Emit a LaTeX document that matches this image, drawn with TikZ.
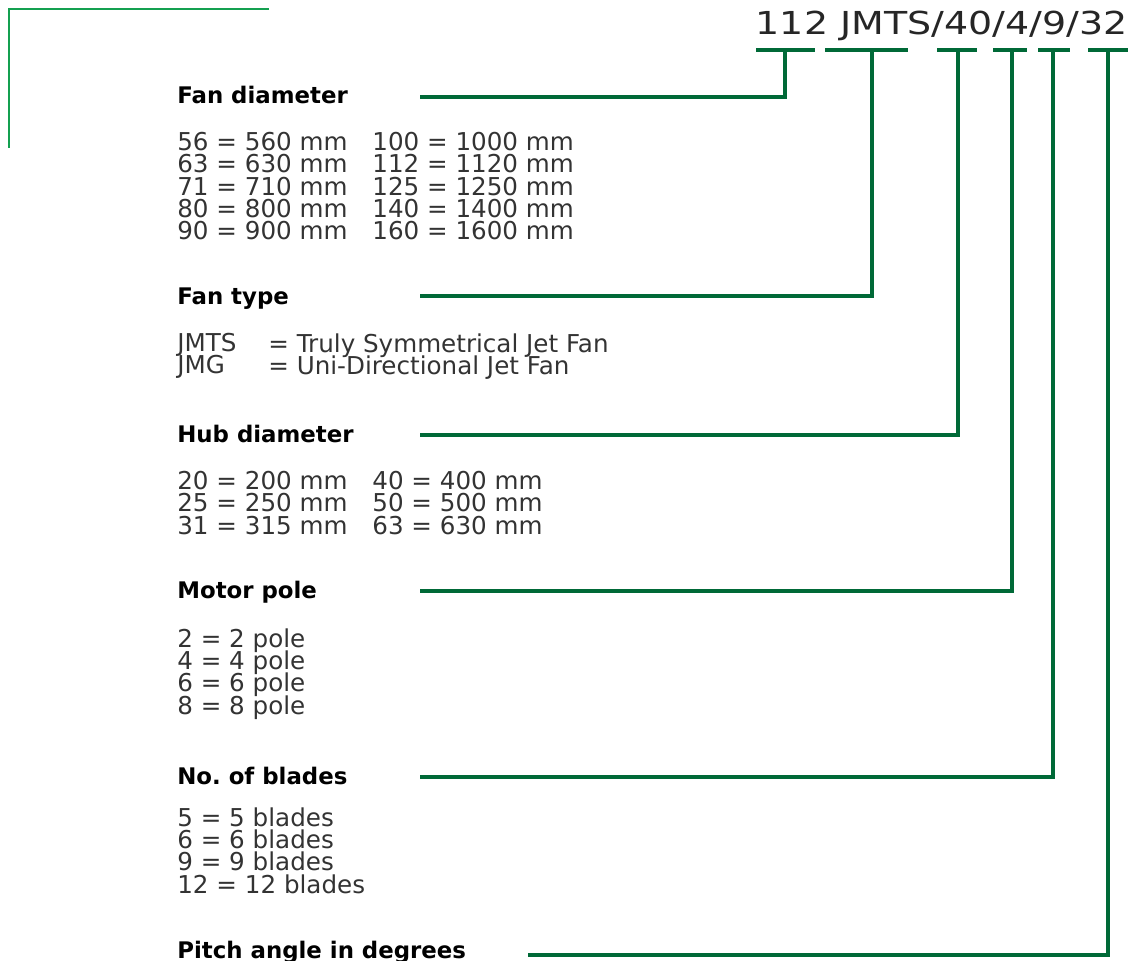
\documentclass[tikz,border=0pt]{standalone}
\usepackage{fontspec}
\setmainfont{DejaVu Sans}
\newfontfamily\codefont[FakeStretch=1.2]{DejaVu Sans}
\usetikzlibrary{positioning}
\definecolor{codegreen}{RGB}{0,105,55}
\definecolor{framegreen}{RGB}{20,160,80}
\newcommand\tightlines{\lineskiplimit=-100pt\relax}

\begin{document}
\begin{tikzpicture}[x=0.2mm, y=-0.2mm,
  head/.style={anchor=base west, inner sep=0pt, font=\fontsize{13}{14}\selectfont\bfseries},
  body/.style={anchor=north west, inner sep=0pt, align=left, text=black!80,
    font=\fontsize{14}{12.7}\selectfont\tightlines},
  lead/.style={codegreen, line width=2.3pt}]
\useasboundingbox (0,0) rectangle (1128,961);

% frame corner
\draw[framegreen, line width=0.8pt] (269,9) -- (9,9) -- (9,148);

% type code and its bars
\node[anchor=base east, inner sep=0pt, text=black!85, font=\codefont\fontsize{18}{20}\selectfont] (code) at (1128,35) {112 JMTS/40/4/9/32};
\foreach \n/\l/\m/\r in {1/756/785/815, 2/825/872/908, 3/937/958/977, 4/993/1012/1027, 5/1038/1053/1070, 6/1088/1108/1128} {
  \draw[lead] (\l,50) -- (\r,50);
  \coordinate (bar\n) at (\m,50);
}

% Fan diameter
\node[head] (diam) at (177,104) {Fan diameter};
\node[body] (diamA) at (177,132) {56 = 560 mm\\63 = 630 mm\\71 = 710 mm\\80 = 800 mm\\90 = 900 mm};
\node[body] (diamB) at (372,132) {100 = 1000 mm\\112 = 1120 mm\\125 = 1250 mm\\140 = 1400 mm\\160 = 1600 mm};
\coordinate (lead1) at (420,97);

% Fan type
\node[head] (type) at (177,304) {Fan type};
\node[body] (typeA) at (177,333) {JMTS\\JMG};
\node[body] (typeB) at (268,333) {= Truly Symmetrical Jet Fan\\= Uni-Directional Jet Fan};
\coordinate (lead2) at (420,296);

% Hub diameter
\node[head] (hub) at (177,442) {Hub diameter};
\node[body] (hubA) at (177,471) {20 = 200 mm\\25 = 250 mm\\31 = 315 mm};
\node[body] (hubB) at (372,471) {40 = 400 mm\\50 = 500 mm\\63 = 630 mm};
\coordinate (lead3) at (420,435);

% Motor pole
\node[head] (pole) at (177,598) {Motor pole};
\node[body] (poleA) at (177,628) {2 = 2 pole\\4 = 4 pole\\6 = 6 pole\\8 = 8 pole};
\coordinate (lead4) at (420,591);

% No. of blades
\node[head] (blade) at (177,784) {No.\ of blades};
\node[body] (bladeA) at (177,807) {5 = 5 blades\\6 = 6 blades\\9 = 9 blades\\12 = 12 blades};
\coordinate (lead5) at (420,777);

% Pitch angle
\node[head] (pitch) at (177,958) {Pitch angle in degrees};
\coordinate (lead6) at (528,955);

\foreach \n in {1,...,6}
  \draw[lead] (lead\n) -| (bar\n);
\end{tikzpicture}
\end{document}
